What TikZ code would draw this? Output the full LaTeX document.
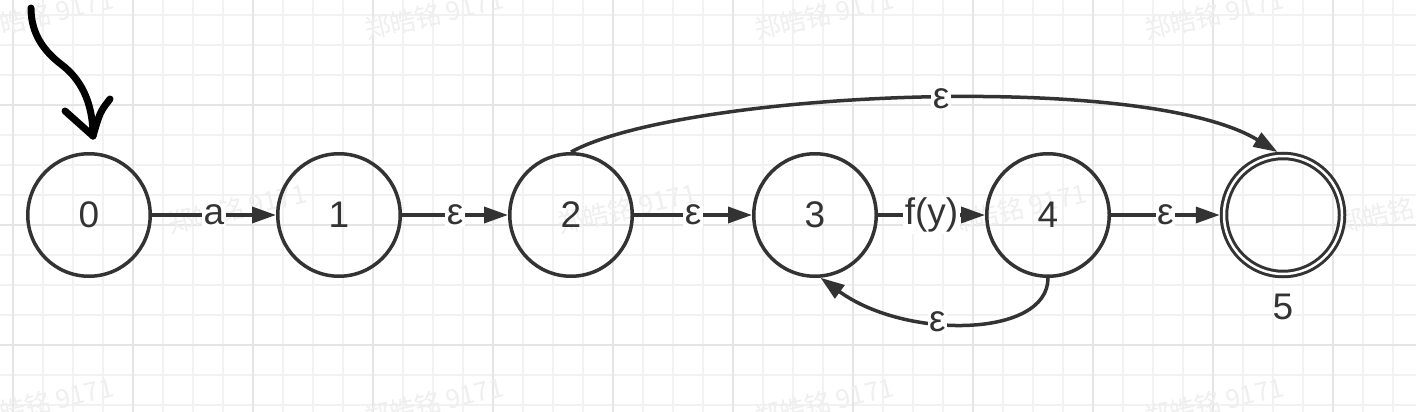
\documentclass[tikz,border=0pt]{standalone}
\usepackage{fontspec}
\setmainfont{Liberation Sans}
\newfontfamily\cjk{Noto Sans CJK SC}
\usetikzlibrary{arrows.meta}
\definecolor{ink}{HTML}{333333}
\definecolor{gridminor}{HTML}{F2F2F2}
\definecolor{gridmajor}{HTML}{E5E5E5}
\definecolor{wm}{HTML}{EFEFEF}
\begin{document}
\begin{tikzpicture}[x=1pt,y=-1pt,
  state/.style={circle,draw=ink,line width=3.5pt,minimum size=122.5pt,inner sep=0pt,text=ink,font=\fontsize{37}{40}\selectfont},
  accept/.style={circle,draw=ink,line width=3pt,double=white,double distance=2.5pt,minimum size=118pt,inner sep=0pt,outer sep=4.25pt},
  edge/.style={draw=ink,line width=3.5pt,-{Triangle[length=24pt,width=16pt]}},
  lbl/.style={fill=white,text=ink,inner sep=1.5pt,font=\fontsize{37}{40}\selectfont},
  plain/.style={text=ink,inner sep=0pt,font=\fontsize{37}{40}\selectfont},
  wmark/.style={text=wm,font=\cjk\fontsize{26}{30}\selectfont,rotate=13,anchor=base west,inner sep=0pt},
  gminor/.style={draw=gridminor,line width=1.5pt},
  gmajor/.style={draw=gridmajor,line width=1.8pt},
  hand/.style={draw=black,line width=7pt,line cap=round,line join=round}]
\fill[white] (0,0) rectangle (1416,412);
\useasboundingbox (0,0) rectangle (1416,412);
% grid
\foreach \x in {13,43,...,1403} \draw[gminor] (\x,0) -- (\x,412);
\foreach \y in {15,45,...,405} \draw[gminor] (0,\y) -- (1416,\y);
\foreach \x in {13,133,...,1393} \draw[gmajor] (\x,0) -- (\x,412);
\foreach \y in {105,225,345} \draw[gmajor] (0,\y) -- (1416,\y);
% watermarks
\foreach \x in {-23,367,757,1147} {
  \node[wmark] at (\x,40) {郑皓铭 9171};
  \node[wmark] at (\x,428) {郑皓铭 9171};
}
\foreach \x in {170,560,950,1340} \node[wmark] at (\x,234) {郑皓铭 9171};
% states
\node[state] (n0) at (89,215) {0};
\node[state] (n1) at (339,215) {1};
\node[state] (n2) at (571,215) {2};
\node[state] (n3) at (815,215) {3};
\node[state] (n4) at (1048,215) {4};
\node[accept] (n5) at (1283,215) {};
\node[plain] (l5) at (1283,307) {5};
% edges
\draw[edge] (n0) -- node[lbl] {a} (n1);
\draw[edge] (n1) -- node[lbl] {ε} (n2);
\draw[edge] (n2) -- node[lbl] {ε} (n3);
\draw[edge] (n3) -- node[lbl] {f(y)} (n4);
\draw[edge] (n4) -- node[lbl] {ε} (n5);
\draw[edge] (n2.north) .. controls +(110,-60) and +(-135,-82) .. node[lbl,pos=0.53] {ε} (n5.95);
\draw[edge] (n4.south) .. controls +(0,60) and +(85,62) .. node[lbl,pos=0.6] {ε} (n3.-85);
% hand-drawn start arrow
\coordinate (hs) at (31,8);
\coordinate (hm) at (62,65);
\coordinate (ht) at (93,136);
\coordinate (hl) at (65,111);
\coordinate (hr) at (110,99);
\draw[hand] (hs) .. controls (31,35) and (45,52) .. (hm) .. controls (79,78) and (93,100) .. (ht);
\draw[hand] (hl) -- (ht);
\draw[hand] (hr) .. controls (100,112) .. (ht);
\end{tikzpicture}
\end{document}
